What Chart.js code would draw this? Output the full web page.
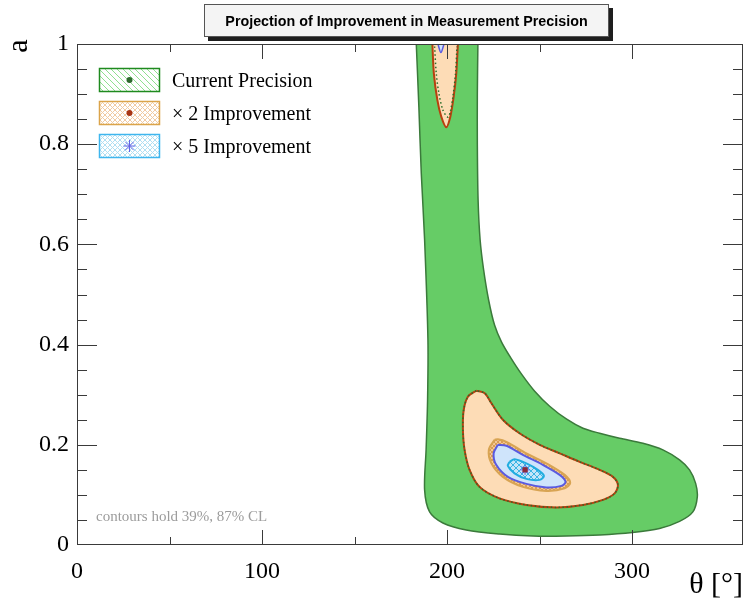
<!DOCTYPE html>
<html>
<head>
<meta charset="utf-8">
<script src="https://cdn.jsdelivr.net/npm/chart.js@4.4.1/dist/chart.umd.min.js"></script>
<style>
  html, body { margin: 0; padding: 0; background: #fff; }
  #wrap { width: 745px; height: 603px; }
</style>
</head>
<body>
<div id="wrap"><canvas id="contourChart" width="745" height="603"></canvas></div>
<script>
// contour outlines (theta in degrees, a)
const greenTheta = [183.4, 184.8, 186.1, 187.9, 189.7, 189.5, 188.7, 187.9, 190.6, 197.8, 210.4, 228.4, 246.4, 264.5, 282.5, 300.3, 314.9, 325.7, 332.9, 335.3, 334.4, 331.1, 325.7, 316.7, 305.9, 293.3, 282.5, 273.5, 264.7, 255.5, 247.4, 240.3, 234.4, 229.5, 225.7, 222.5, 219.8, 217.9, 216.8, 216.4, 216.4, 216.7];
const greenA = [1.0, 0.874, 0.742, 0.609, 0.409, 0.289, 0.190, 0.110, 0.066, 0.044, 0.030, 0.022, 0.018, 0.018, 0.020, 0.025, 0.033, 0.047, 0.066, 0.096, 0.123, 0.150, 0.170, 0.190, 0.203, 0.213, 0.223, 0.233, 0.251, 0.277, 0.307, 0.341, 0.374, 0.405, 0.439, 0.489, 0.549, 0.609, 0.689, 0.80, 0.90, 1.0];

const dropTheta = [192.1, 192.9, 194.8, 196.9, 199.6, 201.8, 203.6, 205.0, 205.9];
const dropA = [1.0, 0.941, 0.888, 0.855, 0.834, 0.855, 0.895, 0.941, 1.0];

const dropDotTheta = [193.3, 194.2, 195.6, 197.8, 200.5, 201.8, 203.2, 204.6, 205.4];
const dropDotA = [0.995, 0.941, 0.902, 0.868, 0.854, 0.865, 0.895, 0.941, 0.995];

const tipTheta = [195.1, 196.7, 198.4];
const tipA = [1.0, 0.983, 1.0];

const orangeTheta = [215.8, 211.3, 209.0, 208.6, 209.5, 212.2, 217.6, 228.4, 242.9, 259.1, 273.5, 284.3, 290.6, 292.4, 289.7, 282.5, 271.7, 260.9, 250.1, 239.2, 230.2, 224.0, 220.4, 215.8];
const orangeA = [0.308, 0.296, 0.269, 0.230, 0.190, 0.150, 0.116, 0.093, 0.080, 0.075, 0.080, 0.090, 0.103, 0.120, 0.136, 0.150, 0.166, 0.183, 0.200, 0.223, 0.250, 0.283, 0.303, 0.308];

const tanTheta = [225.7, 222.6, 224.0, 230.2, 241.0, 253.7, 263.6, 266.6, 263.6, 253.7, 242.9, 232.1, 227.5, 225.7];
const tanA = [0.210, 0.190, 0.163, 0.136, 0.116, 0.108, 0.113, 0.124, 0.140, 0.163, 0.183, 0.206, 0.211, 0.210];

const blueTheta = [227.5, 225.2, 226.6, 232.9, 242.9, 253.7, 261.8, 264.1, 260.9, 251.8, 241.0, 232.1, 227.5];
const blueA = [0.200, 0.183, 0.160, 0.136, 0.122, 0.115, 0.118, 0.126, 0.140, 0.160, 0.180, 0.198, 0.200];

const cyanTheta = [233.8, 232.9, 236.5, 242.9, 250.1, 252.4, 249.1, 242.9, 236.5, 233.8];
const cyanA = [0.166, 0.158, 0.143, 0.132, 0.130, 0.138, 0.150, 0.163, 0.171, 0.166];

const bestTheta = [242.2];
const bestA = [0.150];

const seriesNames = ['Current Precision', '\u00d7 2 Improvement', '\u00d7 5 Improvement'];
const chartTitle = 'Projection of Improvement in Measurement Precision';
const noteText = 'contours hold 39%, 87% CL';

const serif = "'Liberation Serif', 'DejaVu Serif', serif";
const sans = "'Liberation Sans', Arial, sans-serif";

function pts(xs, ys) {
    return xs.map((x, i) => ({ x: x, y: ys[i] }));
}

// small hatch tiles
function hatch(bg, fg, size, cross) {
    const c = document.createElement('canvas');
    c.width = size; c.height = size;
    const g = c.getContext('2d');
    g.fillStyle = bg;
    g.fillRect(0, 0, size, size);
    g.strokeStyle = fg;
    g.lineWidth = 1;
    g.beginPath();
    for (let k = -size; k <= size; k += size) {
        g.moveTo(k, 0); g.lineTo(k + size, size);
        if (cross) { g.moveTo(k + size, 0); g.lineTo(k, size); }
    }
    g.stroke();
    return g.createPattern(c, 'repeat');
}

const tanFill = hatch('#f4c894', '#d99c55', 4, true);
const cyanFill = hatch('#c4e6f8', '#3cb4e4', 6, true);
const legGreen = hatch('#ffffff', '#8fe08f', 6, false);
const legOrange = hatch('#ffffff', '#f1cba4', 5, true);
const legCyan = hatch('#ffffff', '#b0dff2', 5, true);

const decor = {
    id: 'decor',
    afterDatasetsDraw(chart) {
        const ctx = chart.ctx;
        const { left, right, top, bottom } = chart.chartArea;
        const xs = chart.scales.x, ys = chart.scales.y;
        ctx.save();

        // ticks on all four sides, pointing inwards
        ctx.strokeStyle = '#3a3a3a';
        ctx.lineWidth = 1;
        ctx.beginPath();
        xs.ticks.forEach(t => {
            const v = Math.round(t.value);
            if (v % 50 || v <= xs.min || v >= xs.max) return;
            const px = Math.round(xs.getPixelForValue(v)) + 0.5;
            const len = v % 100 === 0 ? 15 : 8;
            ctx.moveTo(px, bottom); ctx.lineTo(px, bottom - len);
            ctx.moveTo(px, top); ctx.lineTo(px, top + len);
        });
        ys.ticks.forEach(t => {
            const k = Math.round(t.value * 100);
            if (k % 5 || k <= 0 || k >= 100) return;
            const py = Math.round(ys.getPixelForValue(t.value)) + 0.5;
            const len = k % 20 === 0 ? 20 : 10;
            ctx.moveTo(left, py); ctx.lineTo(left + len, py);
            ctx.moveTo(right, py); ctx.lineTo(right - len, py);
        });
        ctx.stroke();
        ctx.strokeRect(left + 0.5, top + 0.5, right - left - 1, bottom - top - 1);

        // note
        ctx.fillStyle = '#9c9c9c';
        ctx.font = '15px ' + serif;
        ctx.textAlign = 'left';
        ctx.textBaseline = 'alphabetic';
        ctx.fillText(noteText, 96, 521);

        // legend
        const rows = [
            { y: 68, fill: legGreen, edge: '#1f8a1f', mark: 'dot', col: '#2e6a2e' },
            { y: 101, fill: legOrange, edge: '#dba44a', mark: 'dot', col: '#a83414' },
            { y: 134, fill: legCyan, edge: '#3fb6ee', mark: 'star', col: '#6464e6' }
        ];
        rows.forEach((r, i) => {
            ctx.fillStyle = r.fill;
            ctx.fillRect(99, r.y, 60, 23);
            ctx.strokeStyle = r.edge;
            ctx.lineWidth = 1.5;
            ctx.strokeRect(99.5, r.y + 0.5, 60, 23);
            const cx = 129.5, cy = r.y + 12;
            if (r.mark === 'dot') {
                ctx.fillStyle = r.col;
                ctx.beginPath();
                ctx.arc(cx, cy, 3, 0, Math.PI * 2);
                ctx.fill();
            } else {
                ctx.strokeStyle = r.col;
                ctx.lineWidth = 1;
                ctx.beginPath();
                for (let j = 0; j < 4; j++) {
                    const ang = j * Math.PI / 4;
                    ctx.moveTo(cx - 6 * Math.cos(ang), cy - 6 * Math.sin(ang));
                    ctx.lineTo(cx + 6 * Math.cos(ang), cy + 6 * Math.sin(ang));
                }
                ctx.stroke();
            }
            ctx.fillStyle = '#000';
            ctx.font = '20px ' + serif;
            ctx.fillText(seriesNames[i], 172, r.y + 19);
        });

        // axis titles
        ctx.fillStyle = '#000';
        ctx.font = '30px ' + serif;
        ctx.textAlign = 'right';
        ctx.fillText('\u03b8 [\u00b0]', 743, 593);
        ctx.save();
        ctx.translate(27, 46);
        ctx.rotate(-Math.PI / 2);
        ctx.textAlign = 'center';
        ctx.fillText('a', 0, 0);
        ctx.restore();

        // title box with shadow
        ctx.fillStyle = '#1e1e1e';
        ctx.fillRect(208, 8, 405, 33);
        ctx.fillStyle = '#f4f4f4';
        ctx.fillRect(204, 4, 405, 33);
        ctx.strokeStyle = '#555';
        ctx.lineWidth = 1;
        ctx.strokeRect(204.5, 4.5, 404, 32);
        ctx.fillStyle = '#000';
        ctx.font = 'bold 14.3px ' + sans;
        ctx.textAlign = 'center';
        ctx.fillText(chartTitle, 406.5, 26);

        ctx.restore();
    }
};

document.addEventListener('DOMContentLoaded', function () {
    const ctx = document.getElementById('contourChart').getContext('2d');
    const area = (label, data, bg, edge, width, order) => ({
        label: label,
        data: data,
        backgroundColor: bg,
        borderColor: edge,
        borderWidth: width,
        fill: 'shape',
        tension: 0.3,
        pointRadius: 0,
        order: order
    });
    const dotted = (label, data, order) => ({
        label: label,
        data: data,
        borderColor: '#2b6e2b',
        borderWidth: 1.5,
        borderDash: [1.5, 2.5],
        fill: false,
        tension: 0.3,
        pointRadius: 0,
        order: order
    });

    new Chart(ctx, {
        type: 'line',
        data: {
            datasets: [
                area('current 87%', pts(greenTheta, greenA), '#66cc66', '#3b7a3b', 1.5, 20),
                area('x2 87% top', pts(dropTheta, dropA), '#fddcb6', '#b8400f', 2, 19),
                area('x5 87% top', pts(tipTheta, tipA), '#cfe4fb', '#5a5ae0', 1.5, 18),
                dotted('current 39% top', pts(dropDotTheta, dropDotA), 17),
                area('x2 87%', pts(orangeTheta, orangeA), '#fddcb6', '#b8400f', 2, 16),
                dotted('current 39%', pts(orangeTheta, orangeA), 15),
                area('x2 39%', pts(tanTheta, tanA), tanFill, '#d8a453', 2, 14),
                area('x5 87%', pts(blueTheta, blueA), '#cfe4fb', '#5a5ae0', 2, 13),
                area('x5 39%', pts(cyanTheta, cyanA), cyanFill, '#22ade0', 2, 12),
                {
                    label: 'best fit x5',
                    data: pts(bestTheta, bestA),
                    showLine: false,
                    pointStyle: 'star',
                    pointRadius: 5,
                    borderColor: '#6060e6',
                    borderWidth: 1,
                    order: 11
                },
                {
                    label: 'best fit',
                    data: pts(bestTheta, bestA),
                    showLine: false,
                    pointStyle: 'rect',
                    pointRadius: 3,
                    backgroundColor: '#8c2a3a',
                    borderColor: '#8c2a3a',
                    borderWidth: 1,
                    order: 10
                }
            ]
        },
        options: {
            responsive: false,
            animation: false,
            events: [],
            layout: { autoPadding: false, padding: { top: 44, right: 2, left: 0, bottom: 0 } },
            plugins: {
                legend: { display: false },
                tooltip: { enabled: false }
            },
            scales: {
                x: {
                    type: 'linear',
                    min: 0,
                    max: 360,
                    grid: { display: false, drawTicks: false },
                    border: { display: false },
                    ticks: {
                        stepSize: 50,
                        autoSkip: false,
                        maxRotation: 0,
                        padding: 12,
                        color: '#000',
                        font: { family: serif, size: 24 },
                        callback: v => (Math.round(v) % 100 === 0 && v < 360 ? String(Math.round(v)) : '')
                    },
                    afterFit: s => { s.height = 58; s.paddingLeft = 0; s.paddingRight = 0; }
                },
                y: {
                    type: 'linear',
                    min: 0,
                    max: 1,
                    grid: { display: false, drawTicks: false },
                    border: { display: false },
                    ticks: {
                        stepSize: 0.05,
                        autoSkip: false,
                        padding: 8,
                        color: '#000',
                        font: { family: serif, size: 24 },
                        callback: v => {
                            const k = Math.round(v * 100);
                            return k % 20 === 0 ? String(k / 100) : '';
                        }
                    },
                    afterFit: s => { s.width = 77; }
                }
            }
        },
        plugins: [decor]
    });
});
</script>
</body>
</html>
